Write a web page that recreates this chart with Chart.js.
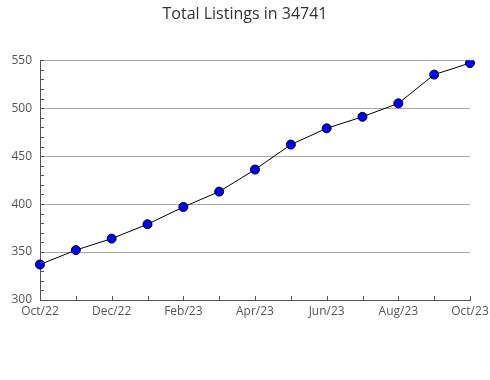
<!DOCTYPE html>
<html>
<head>
<meta charset="utf-8">
<script src="https://cdn.jsdelivr.net/npm/chart.js@4"></script>
<style>
  html, body { margin: 0; padding: 0; background: #fff; }
  #wrap { width: 490px; height: 380px; }
</style>
</head>
<body>
<div id="wrap"><canvas id="chartLine" width="490" height="380"></canvas></div>
<script>
const months = ['Oct/22', 'Nov/22', 'Dec/22', 'Jan/23', 'Feb/23', 'Mar/23', 'Apr/23',
    'May/23', 'Jun/23', 'Jul/23', 'Aug/23', 'Sep/23', 'Oct/23'];
const listings = [337, 352, 364, 379, 397, 413, 436, 462, 479, 491, 505, 535, 547];
const yMin = 300;
const yMax = 550;
const yStep = 50;
const yMinorStep = 10;

// petits traits vers l'intérieur, comme dans l'original
const innerTicks = {
    id: 'innerTicks',
    afterDraw(chart) {
        const c = chart.ctx;
        const area = chart.chartArea;
        const x = chart.scales.x;
        const y = chart.scales.y;
        c.save();
        c.strokeStyle = '#555';
        c.lineWidth = 1;
        c.beginPath();
        for (let v = yMin; v <= yMax; v += yMinorStep) {
            const py = Math.round(y.getPixelForValue(v)) + 0.5;
            c.moveTo(area.left, py);
            c.lineTo(area.left + 4, py);
        }
        x.ticks.forEach((t, i) => {
            const px = Math.round(x.getPixelForTick(i)) + 0.5;
            c.moveTo(px, area.bottom);
            c.lineTo(px, area.bottom - 4);
        });
        c.stroke();
        c.restore();
    }
};

document.addEventListener('DOMContentLoaded', () => {
    const ctx = document.getElementById('chartLine');
    new Chart(ctx, {
        type: 'line',
        data: {
            labels: months,
            datasets: [{
                label: 'Total Listings',
                data: listings,
                borderColor: '#000',
                borderWidth: 1,
                backgroundColor: '#0000ff',
                pointBackgroundColor: '#0000ff',
                pointBorderColor: '#000',
                pointBorderWidth: 1,
                pointRadius: 4.5,
                tension: 0,
                fill: false
            }]
        },
        options: {
            responsive: false,
            animation: false,
            layout: { padding: 0 },
            plugins: {
                legend: { display: false },
                tooltip: { enabled: false },
                title: {
                    display: true,
                    text: 'Total Listings in 34741',
                    color: '#333',
                    font: { family: 'Open Sans', size: 16, weight: 'normal' },
                    padding: { top: 5, bottom: 36 }
                }
            },
            scales: {
                x: {
                    type: 'category',
                    offset: false,
                    grid: { display: false, drawTicks: false },
                    border: { display: true, color: '#555' },
                    ticks: {
                        autoSkip: false,
                        maxRotation: 0,
                        padding: 4,
                        color: '#555',
                        font: { family: 'Open Sans', size: 12 },
                        callback: (v, i) => (i % 2 === 0 ? months[i] : '')
                    },
                    afterFit: (s) => {
                        s.height = 80;
                        s.paddingLeft = 0;
                        s.paddingRight = 20;
                    }
                },
                y: {
                    min: yMin,
                    max: yMax,
                    grid: { color: '#aaa', drawTicks: false },
                    border: { display: true, color: '#555' },
                    ticks: {
                        stepSize: yStep,
                        padding: 8,
                        color: '#555',
                        font: { family: 'Open Sans', size: 12 }
                    },
                    afterFit: (s) => { s.width = 40; }
                }
            }
        },
        plugins: [innerTicks]
    });
});
</script>
</body>
</html>
